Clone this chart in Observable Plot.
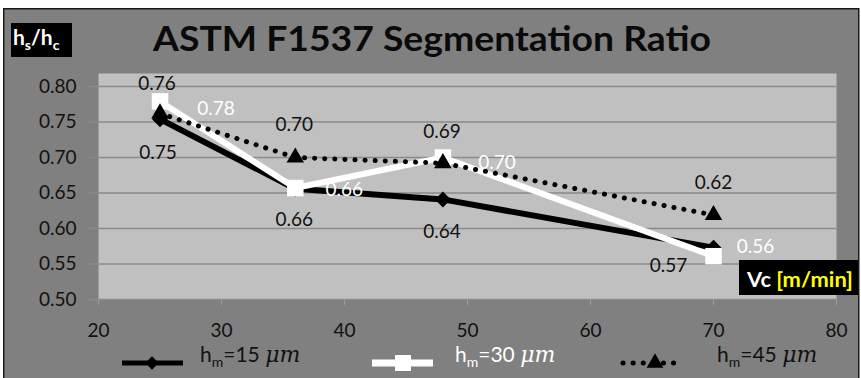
<!DOCTYPE html>
<html><head><meta charset="utf-8">
<script src="https://cdn.jsdelivr.net/npm/d3@7"></script>
<script src="https://cdn.jsdelivr.net/npm/@observablehq/plot@0.6"></script>
<style>
html,body{margin:0;padding:0;background:#fff;}
body{width:861px;height:378px;overflow:hidden;}
svg{display:block;}
</style>
</head><body>
<div id="chart"></div>
<script>
// ---- data ----
const vc = [25, 36, 48, 70];                 // cutting speed Vc [m/min]
const hm15 = [0.754, 0.656, 0.641, 0.573];   // hm = 15 µm
const hm30 = [0.779, 0.657, 0.700, 0.561];   // hm = 30 µm
const hm45 = [0.762, 0.700, 0.692, 0.619];   // hm = 45 µm
const seriesLabels = ["=15 ", "=30 ", "=45 "];
const yTicks = [0.50, 0.55, 0.60, 0.65, 0.70, 0.75, 0.80];
const xTicks = [20, 30, 40, 50, 60, 70, 80];
const titleText = "ASTM F1537 Segmentation Ratio";

// ---- style / layout (label offsets in px) ----
const labelOffsets = {
  s15: [[-2, 34], [-1, 31], [-1, 33], [-45, 18]],
  s30: [[56, 8], [49, 2], [54, 5], [42, -9]],
  s45: [[-3, -30], [-1, -33], [-1, -31], [0, -32]]
};
const FONT = "Lato, 'Open Sans', sans-serif";
const gridColor = "#8a8a8a";

const rows = (vals) => vc.map((x, i) => ({x, y: vals[i]}));
const s15 = rows(hm15), s30 = rows(hm30), s45 = rows(hm45);
const fmt = d3.format(".2f");

function labels(data, offs, color) {
  return data.map((d, i) => Plot.text([d], {
    x: "x", y: "y", text: d => fmt(d.y),
    dx: offs[i][0], dy: offs[i][1],
    fill: color, fontSize: 19, textAnchor: "middle", lineAnchor: "middle"
  }));
}

const plot = Plot.plot({
  width: 861, height: 378,
  marginLeft: 98, marginRight: 25, marginTop: 73, marginBottom: 79,
  x: {domain: [20, 80]},
  y: {domain: [0.5, 0.8183]},
  style: {fontFamily: FONT, background: "transparent", overflow: "visible"},
  marks: [
    Plot.frame({fill: "#c0c0c0", stroke: "none"}),
    Plot.gridY(yTicks, {stroke: gridColor, strokeOpacity: 1, strokeWidth: 1.6}),
    Plot.axisY({ticks: yTicks, tickFormat: ".2f", tickSize: 9, tickPadding: 13, label: null,
      stroke: gridColor, strokeWidth: 1.6, fill: "#111", fontSize: 19}),
    Plot.axisX({ticks: xTicks, tickSize: 6, tickPadding: 18, label: null,
      stroke: "#9c9c9c", fill: "#111", fontSize: 19}),
    Plot.line(s15, {x: "x", y: "y", stroke: "#000", strokeWidth: 6}),
    Plot.dot(s15, {x: "x", y: "y", symbol: "diamond2", r: 7.2, fill: "#000", stroke: "none"}),
    Plot.line(s30, {x: "x", y: "y", stroke: "#fff", strokeWidth: 6}),
    Plot.dot(s30, {x: "x", y: "y", symbol: "square", r: 9.3, fill: "#fff", stroke: "none"}),
    Plot.line(s45, {x: "x", y: "y", stroke: "#000", strokeWidth: 5, strokeDasharray: "0.1,10", strokeLinecap: "round"}),
    Plot.dot(s45, {x: "x", y: "y", symbol: "triangle", r: 6.5, fill: "#000", stroke: "none"}),
    ...labels(s15, labelOffsets.s15, "#111"),
    ...labels(s30, labelOffsets.s30, "#fff"),
    ...labels(s45, labelOffsets.s45, "#111")
  ]
});

document.getElementById("chart").append(plot);
const svg = d3.select(plot);

// outer frame behind everything
svg.insert("rect", ":first-child")
  .attr("x", 3.75).attr("y", 8.75).attr("width", 855).attr("height", 372)
  .attr("fill", "#808080").attr("stroke", "#1a1a1a").attr("stroke-width", 1.5);

const deco = svg.append("g").attr("font-family", FONT).attr("text-anchor", "start");

// title
deco.append("text").attr("x", 153).attr("y", 51)
  .attr("font-size", 35).attr("font-weight", 700).attr("fill", "#0a0a0a")
  .attr("textLength", 558).attr("lengthAdjust", "spacingAndGlyphs")
  .text(titleText);

// y-axis title box
deco.append("rect").attr("x", 11).attr("y", 23).attr("width", 61).attr("height", 34).attr("fill", "#000");
const yt = deco.append("text").attr("x", 13).attr("y", 45).attr("fill", "#fff")
  .attr("font-size", 21).attr("font-weight", 700);
yt.append("tspan").text("h");
yt.append("tspan").attr("dy", 5).attr("font-size", 14).text("s");
yt.append("tspan").attr("dy", -5).text("/h");
yt.append("tspan").attr("dy", 5).attr("font-size", 14).text("c");

// x-axis title box
deco.append("rect").attr("x", 739).attr("y", 260).attr("width", 119).attr("height", 35).attr("fill", "#000");
const xt = deco.append("text").attr("x", 747).attr("y", 287)
  .attr("font-size", 21).attr("font-weight", 700)
  .attr("textLength", 106).attr("lengthAdjust", "spacingAndGlyphs");
xt.append("tspan").attr("fill", "#fff").text("Vc ");
xt.append("tspan").attr("fill", "#ffff00").text("[m/min]");

// legend
const sym = (type, r) => d3.symbol(type, Math.PI * r * r)();
const legendItems = [
  {x0: 122, x1: 183, xm: 152, tx: 200, stroke: "#000", sw: 5, dash: null, type: d3.symbolDiamond2, r: 6, color: "#111"},
  {x0: 372, x1: 433, xm: 403, tx: 455, stroke: "#fff", sw: 7, dash: null, type: d3.symbolSquare, r: 9, color: "#fff"},
  {x0: 623, x1: 680, xm: 655, tx: 717, stroke: "#000", sw: 5, dash: "0.1,10", type: d3.symbolTriangle, r: 6.2, color: "#111"}
];
legendItems.forEach((it, i) => {
  const ly = 363;
  const ln = deco.append("line").attr("x1", it.x0).attr("x2", it.x1).attr("y1", ly).attr("y2", ly)
    .attr("stroke", it.stroke).attr("stroke-width", it.sw);
  if (it.dash) ln.attr("stroke-dasharray", it.dash).attr("stroke-linecap", "round");
  deco.append("path").attr("d", sym(it.type, it.r)).attr("transform", `translate(${it.xm},${ly})`)
    .attr("fill", it.stroke);
  const t = deco.append("text").attr("x", it.tx).attr("y", 362).attr("fill", it.color).attr("font-size", 21);
  t.append("tspan").text("h");
  t.append("tspan").attr("dy", 5).attr("font-size", 14).text("m");
  t.append("tspan").attr("dy", -5).text(seriesLabels[i]);
  t.append("tspan").attr("font-family", "'DejaVu Serif', serif").attr("font-style", "italic").attr("font-size", 22).text("μm");
});
</script>
</body></html>
